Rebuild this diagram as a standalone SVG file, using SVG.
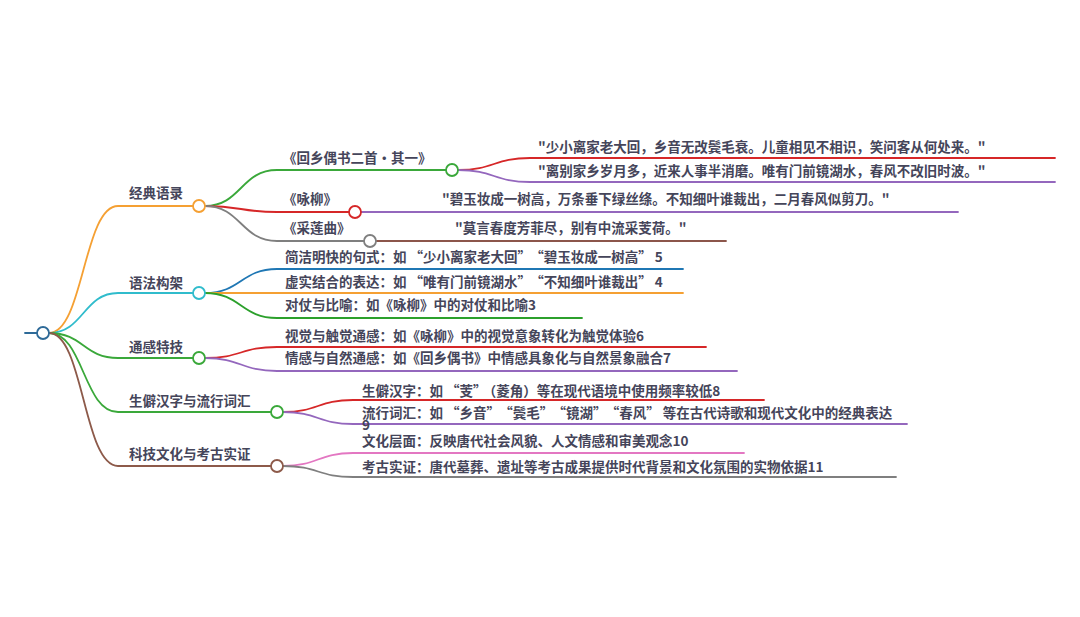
<svg xmlns="http://www.w3.org/2000/svg" width="1080" height="617" viewBox="0 0 1080 617">
<style>
.t{font-family:"Noto Sans CJK SC","Noto Sans",sans-serif;font-size:13.5px;font-weight:600;fill:#45455a}
.l{fill:none;stroke-width:1.8;stroke-linecap:round}
.c{fill:#fff;stroke-width:1.8}
</style>
<rect width="1080" height="617" fill="#fff"/>
<g id="connectors">
<path class="l" stroke="#2e6a98" d="M25,333 H37"/>
<path class="l" stroke="#f5a033" d="M49,333 C83.5,333 83.5,206 118,206 H193"/>
<path class="l" stroke="#30bccc" d="M49,333 C83.5,333 83.5,293 118,293 H193"/>
<path class="l" stroke="#3aa83a" d="M49,333 C83.5,333 83.5,358 118,358 H193"/>
<path class="l" stroke="#3aa83a" d="M49,333 C83.5,333 83.5,412 118,412 H271"/>
<path class="l" stroke="#8d5a4a" d="M49,333 C83.5,333 83.5,466 118,466 H271"/>
<path class="l" stroke="#3aa83a" d="M205,206 C241,206 241,170 277,170 H446"/>
<path class="l" stroke="#d62728" d="M205,206 C241,206 241,212 277,212 H349"/>
<path class="l" stroke="#7f7f7f" d="M205,206 C241,206 241,241 277,241 H364"/>
<path class="l" stroke="#d62728" d="M458,170 C494,170 494,158 530,158 H1055"/>
<path class="l" stroke="#9467bd" d="M458,170 C494,170 494,182 530,182 H1055"/>
<path class="l" stroke="#9467bd" d="M361,212 H958"/>
<path class="l" stroke="#8c564b" d="M376,241 H726"/>
<path class="l" stroke="#1f77b4" d="M205,293 C241,293 241,269 277,269 H683"/>
<path class="l" stroke="#f5a033" d="M205,293 H683"/>
<path class="l" stroke="#2ca02c" d="M205,293 C241,293 241,318 277,318 H582"/>
<path class="l" stroke="#d62728" d="M205,358 C241,358 241,347 277,347 H706"/>
<path class="l" stroke="#9467bd" d="M205,358 C241,358 241,371 277,371 H737"/>
<path class="l" stroke="#d62728" d="M283,412 C318,412 318,400 353,400 H764"/>
<path class="l" stroke="#9467bd" d="M283,412 C318,412 318,424 353,424 H907"/>
<path class="l" stroke="#e377c2" d="M283,466 C318,466 318,453 353,453 H744"/>
<path class="l" stroke="#7f7f7f" d="M283,466 C318,466 318,477 353,477 H896"/>
</g>
<g id="root"><circle class="c" stroke="#2e6a98" cx="43" cy="333" r="6"/></g>
<g id="n1"><circle class="c" stroke="#f5a033" cx="199" cy="206" r="6"/><text class="t" x="129" y="198">经典语录</text></g>
<g id="n2"><circle class="c" stroke="#30bccc" cx="199" cy="293" r="6"/><text class="t" x="129" y="288">语法构架</text></g>
<g id="n3"><circle class="c" stroke="#3aa83a" cx="199" cy="358" r="6"/><text class="t" x="129" y="352">通感特技</text></g>
<g id="n4"><circle class="c" stroke="#3aa83a" cx="277" cy="412" r="6"/><text class="t" x="129" y="406">生僻汉字与流行词汇</text></g>
<g id="n5"><circle class="c" stroke="#8d5a4a" cx="277" cy="466" r="6"/><text class="t" x="129" y="459">科技文化与考古实证</text></g>
<g id="n1a"><circle class="c" stroke="#3aa83a" cx="452" cy="170" r="6"/><text class="t" x="283" y="163">《回乡偶书二首•其一》</text></g>
<g id="n1b"><circle class="c" stroke="#d62728" cx="355" cy="212" r="6"/><text class="t" x="283" y="204">《咏柳》</text></g>
<g id="n1c"><circle class="c" stroke="#7f7f7f" cx="370" cy="241" r="6"/><text class="t" x="283" y="233">《采莲曲》</text></g>
<g id="n1a1"><text class="t" x="538" y="152">"少小离家老大回，乡音无改鬓毛衰。儿童相见不相识，笑问客从何处来。"</text></g>
<g id="n1a2"><text class="t" x="538" y="176">"离别家乡岁月多，近来人事半消磨。唯有门前镜湖水，春风不改旧时波。"</text></g>
<g id="n1b1"><text class="t" x="442" y="204">"碧玉妆成一树高，万条垂下绿丝绦。不知细叶谁裁出，二月春风似剪刀。"</text></g>
<g id="n1c1"><text class="t" x="455" y="233">"莫言春度芳菲尽，别有中流采芰荷。"</text></g>
<g id="n2a"><text class="t" x="285" y="262">简洁明快的句式：如<tspan dx="3">“</tspan>少小离家老大回”<tspan dx="6">“</tspan>碧玉妆成一树高”<tspan dx="3">5</tspan></text></g>
<g id="n2b"><text class="t" x="285" y="287">虚实结合的表达：如<tspan dx="3">“</tspan>唯有门前镜湖水”<tspan dx="6">“</tspan>不知细叶谁裁出”<tspan dx="3">4</tspan></text></g>
<g id="n2c"><text class="t" x="285" y="310">对仗与比喻：如《咏柳》中的对仗和比喻3</text></g>
<g id="n3a"><text class="t" x="285" y="341">视觉与触觉通感：如《咏柳》中的视觉意象转化为触觉体验6</text></g>
<g id="n3b"><text class="t" x="285" y="363">情感与自然通感：如《回乡偶书》中情感具象化与自然景象融合7</text></g>
<g id="n4a"><text class="t" x="362" y="396">生僻汉字：如<tspan dx="3">“</tspan>芰”<tspan dx="3">（</tspan>菱角）等在现代语境中使用频率较低8</text></g>
<g id="n4b"><text class="t" x="362" y="418">流行词汇：如<tspan dx="3">“</tspan>乡音”<tspan dx="6">“</tspan>鬓毛”<tspan dx="6">“</tspan>镜湖”<tspan dx="6">“</tspan>春风”<tspan dx="3">等</tspan>在古代诗歌和现代文化中的经典表达<tspan x="362" y="430">9</tspan></text></g>
<g id="n5a"><text class="t" x="362" y="446">文化层面：反映唐代社会风貌、人文情感和审美观念10</text></g>
<g id="n5b"><text class="t" x="362" y="472">考古实证：唐代墓葬、遗址等考古成果提供时代背景和文化氛围的实物依据11</text></g>
</svg>
